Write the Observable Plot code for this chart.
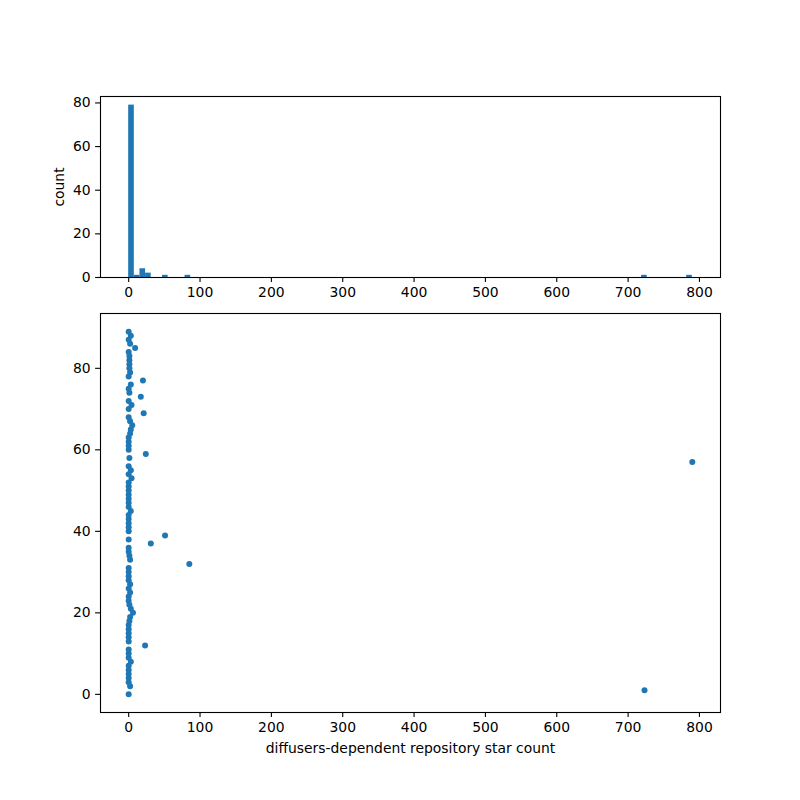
<!DOCTYPE html>
<html>
<head>
<meta charset="utf-8">
<script src="https://cdn.jsdelivr.net/npm/d3@7"></script>
<script src="https://cdn.jsdelivr.net/npm/@observablehq/plot@0.6"></script>
<style>
  html, body { margin: 0; padding: 0; background: white; }
  #wrap { position: relative; width: 800px; height: 800px; background: white; }
  #wrap > div { position: absolute; left: 0; }
</style>
</head>
<body>
<div id="wrap"><div id="scat" style="top:290px"></div><div id="hist" style="top:0px"></div></div>
<script>
// star counts by repository index 0..89
const stars = [
  0, 723, 2, 0, 0, 0, 0, 0, 3, 0,
  0, 0, 23, 0, 0, 0, 0, 0, 1, 2,
  6, 3, 1, 0, 0, 2, 0, 2, 0, 0,
  0, 0, 85, 2, 1, 0, 0, 31, 0, 51,
  0, 0, 0, 0, 0, 3, 0, 0, 0, 0,
  0, 0, 0, 4, 0, 3, 0, 790, 1, 24,
  0, 0, 0, 0, 2, 3, 5, 2, 0, 21,
  0, 4, 0, 17, 1, 0, 3, 20, 0, 2,
  1, 1, 1, 1, 0, 9, 2, 0, 3, 0
];
const index = stars.map((_, i) => i);
const xTicks = [0, 100, 200, 300, 400, 500, 600, 700, 800];
const histYTicks = [0, 20, 40, 60, 80];
const scatYTicks = [0, 20, 40, 60, 80];
const xLabel = "diffusers-dependent repository star count";
const yLabelHist = "count";

const blue = "#1f77b4";
const nBins = 100;
const xMin = d3.min(stars), xMax = d3.max(stars);
const edges = d3.range(nBins + 1).map(i => xMin + i * (xMax - xMin) / nBins);
const counts = edges.slice(0, -1).map((e0, i) => {
  const e1 = edges[i + 1];
  return stars.filter(v => v >= e0 && (i === nBins - 1 ? v <= e1 : v < e1)).length;
});
const bins = counts.map((c, i) => ({x0: edges[i], x1: edges[i + 1], count: c})).filter(d => d.count > 0);

const pad = (xMax - xMin) * 0.05;
const xDomain = [xMin - pad, xMax + pad];
const maxCount = d3.max(counts);
const yPad = (89 - 0) * 0.05;

const style = {fontFamily: "DejaVu Sans", fontSize: "13.9px", color: "black", background: "transparent", overflow: "visible"};

const hist = Plot.plot({
  width: 800, height: 300,
  marginLeft: 100, marginRight: 80, marginTop: 96, marginBottom: 23,
  style,
  x: {domain: xDomain},
  y: {domain: [0, maxCount * 1.05]},
  marks: [
    Plot.rect(bins, {x1: "x0", x2: "x1", y1: 0, y2: "count", fill: blue, inset: 0}),
    Plot.frame({stroke: "black", strokeWidth: 1.1}),
    Plot.axisX({ticks: xTicks, tickSize: 4.9, tickPadding: 4.9, tickFormat: d3.format("d"), label: null, strokeWidth: 1.1}),
    Plot.axisY({ticks: histYTicks, tickSize: 4.9, tickPadding: 4.9, tickFormat: d3.format("d"), label: yLabelHist, labelAnchor: "center", labelArrow: "none", labelOffset: 46, strokeWidth: 1.1})
  ]
});
document.getElementById("hist").appendChild(hist);

const scat = Plot.plot({
  width: 800, height: 510,
  marginLeft: 100, marginRight: 80, marginTop: 23, marginBottom: 88,
  style,
  x: {domain: xDomain},
  y: {domain: [0 - yPad, 89 + yPad]},
  marks: [
    Plot.dot(index, {x: i => stars[i], y: i => i, r: 3, fill: blue, stroke: "none"}),
    Plot.frame({stroke: "black", strokeWidth: 1.1}),
    Plot.axisX({ticks: xTicks, tickSize: 4.9, tickPadding: 4.9, tickFormat: d3.format("d"), label: xLabel, labelAnchor: "center", labelArrow: "none", labelOffset: 40, strokeWidth: 1.1}),
    Plot.axisY({ticks: scatYTicks, tickSize: 4.9, tickPadding: 4.9, tickFormat: d3.format("d"), label: null, strokeWidth: 1.1})
  ]
});
document.getElementById("scat").appendChild(scat);
</script>
</body>
</html>
